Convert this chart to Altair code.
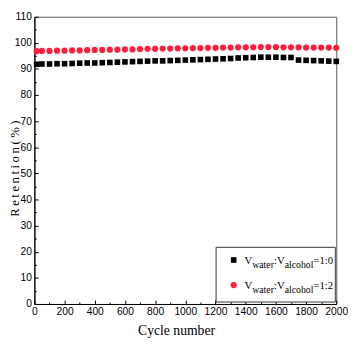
import altair as alt
import pandas as pd

cycles = [15] + list(range(50, 2001, 50))
black_vals = [91.8, 91.9, 91.9, 92.0, 92.0, 92.1, 92.2, 92.3, 92.3, 92.4,
              92.5, 92.6, 92.7, 92.8, 92.9, 93.0, 93.1, 93.1, 93.2, 93.3,
              93.4, 93.5, 93.6, 93.7, 93.8, 93.9, 94.0, 94.2, 94.3, 94.4,
              94.5, 94.5, 94.5, 94.4, 94.4, 93.4, 93.3, 93.2, 93.1, 93.0, 92.9]
red_vals = [96.8, 96.9, 96.9, 97.0, 97.0, 97.1, 97.1, 97.2, 97.3, 97.3,
            97.4, 97.4, 97.5, 97.5, 97.6, 97.7, 97.7, 97.8, 97.8, 97.9,
            97.9, 98.0, 98.0, 98.1, 98.1, 98.2, 98.2, 98.3, 98.3, 98.3,
            98.4, 98.4, 98.4, 98.3, 98.3, 98.3, 98.2, 98.2, 98.2, 98.2, 98.1]
series_names = ["1:0", "1:2"]
colors = ["#000000", "#ff1f3d"]
shapes = ["square", "circle"]
sizes = [33, 40]
x_ticks = list(range(0, 2001, 200))
x_minor = list(range(100, 2000, 200))
y_ticks = list(range(0, 111, 10))
y_minor = list(range(5, 110, 10))

rows = []
for c, v in zip(cycles, black_vals):
    rows.append({"cycle": c, "value": v, "series": "1:0"})
for c, v in zip(cycles, red_vals):
    rows.append({"cycle": c, "value": v, "series": "1:2"})
df = pd.DataFrame(rows)

W, H = 309, 294
LABEL_FONT = "Liberation Sans Narrow, Arial Narrow, Liberation Sans, sans-serif"
SERIF = "Liberation Serif, Times New Roman, serif"
xscale = alt.Scale(domain=[0, 2000], nice=False, zero=False)
yscale = alt.Scale(domain=[0, 110], nice=False, zero=False)

main = alt.Chart(df).mark_point(filled=True, opacity=1).encode(
    x=alt.X("cycle:Q", scale=xscale, axis=alt.Axis(
        orient="bottom", values=x_ticks, ticks=False, tickSize=0, labelPadding=3,
        labelFont=LABEL_FONT, labelFontSize=10.5, labelColor="black", labelOverlap=False,
        labelFlush=False, format="d", grid=False, domainColor="black", domainWidth=1.2,
        title="Cycle number", titleFont=SERIF, titleFontSize=14, titleFontWeight="normal",
        titleColor="black", titleX=145, titleY=31, titleBaseline="alphabetic")),
    y=alt.Y("value:Q", scale=yscale, axis=alt.Axis(
        orient="left", values=y_ticks, ticks=False, tickSize=0, labelPadding=3,
        labelFont=LABEL_FONT, labelFontSize=10.5, labelColor="black", labelOverlap=False,
        labelFlush=False, format="d", grid=False, domainColor="black", domainWidth=1.2,
        title="R\u2009e\u2009t\u2009e\u2009n\u2009t\u2009i\u2009o\u2009n\u2009(\u2009%\u2009)",
        titleFont=SERIF, titleFontSize=13, titleFontWeight="normal", titleColor="black",
        titleX=-16, titleY=155, titleBaseline="alphabetic", titleAngle=270)),
    color=alt.Color("series:N", scale=alt.Scale(domain=series_names, range=colors), legend=None),
    shape=alt.Shape("series:N", scale=alt.Scale(domain=series_names, range=shapes), legend=None),
    size=alt.Size("series:N", scale=alt.Scale(domain=series_names, range=sizes), legend=None),
)


def tick_layer(xvals, yvals, length):
    return alt.Chart(df).mark_point(opacity=0).encode(
        x=alt.X("cycle:Q", scale=xscale, axis=alt.Axis(
            orient="bottom", values=xvals, labels=False, domain=False, grid=False,
            ticks=True, tickSize=length, offset=-length, tickColor="black", tickWidth=1,
            title=None)),
        y=alt.Y("value:Q", scale=yscale, axis=alt.Axis(
            orient="left", values=yvals, labels=False, domain=False, grid=False,
            ticks=True, tickSize=length, offset=-length, tickColor="black", tickWidth=1,
            title=None)),
    )


major = tick_layer(x_ticks, y_ticks, 4)
minor = tick_layer(x_minor, y_minor, 2)

one = alt.Data(values=[{"k": 0}])

legend_layers = []
box = alt.Chart(one).mark_rect(fill="white", stroke="#333333", strokeWidth=1).encode(
    x=alt.value(186), x2=alt.value(308), y=alt.value(236), y2=alt.value(292))
legend_layers.append(box)

CW = {"V": .722, "w": .722, "a": .444, "t": .278, "e": .444, "r": .333, ":": .278,
      "l": .278, "c": .444, "o": .5, "h": .5, "=": .564, "1": .5, "0": .5, "2": .5}


def text_w(s, fs):
    return sum(CW.get(ch, .5) for ch in s) * fs


entry_base = [253, 278.7]
entry_sym = [249, 274.7]
for i, name in enumerate(series_names):
    sym = alt.Chart(one).mark_point(filled=True, opacity=1, shape=shapes[i],
                                    size=sizes[i], color=colors[i]).encode(
        x=alt.value(204), y=alt.value(entry_sym[i]))
    legend_layers.append(sym)
    pieces = [("V", 11, 0), ("water", 10, 4.5), (":V", 11, 0), ("alcohol", 10, 4.5),
              ("=" + name, 11, 0)]
    xpos = 215
    for txt, fs, dy in pieces:
        t = alt.Chart(one).mark_text(font=SERIF, fontSize=fs, align="left",
                                     baseline="alphabetic", color="black").encode(
            x=alt.value(xpos), y=alt.value(entry_base[i] + dy), text=alt.value(txt))
        legend_layers.append(t)
        xpos += text_w(txt, fs)

chart = alt.layer(minor, major, main, *legend_layers).resolve_axis(
    x="independent", y="independent"
).properties(
    width=W, height=H,
    autosize=alt.AutoSizeParams(type="none"),
    padding={"left": 27, "top": 5, "right": 12, "bottom": 36},
    background="white",
).configure_view(stroke="#555555", strokeWidth=1)

chart.save("out.html", embed_options={"renderer": "svg", "actions": False})
